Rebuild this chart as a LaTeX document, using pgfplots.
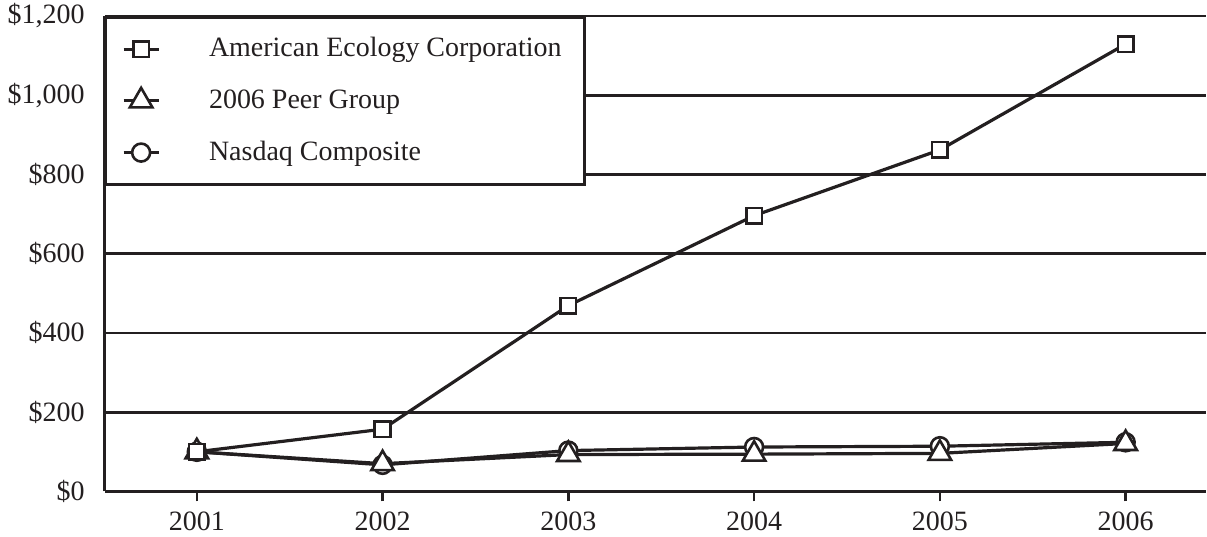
\documentclass[border=0pt]{standalone}
\usepackage{fontspec}
\setmainfont{Liberation Serif}
\usepackage{pgfplots}
\pgfplotsset{compat=1.18}
\definecolor{ink}{RGB}{35,31,32}
\begin{document}
\fontsize{14}{16}\selectfont
\begin{tikzpicture}
\begin{axis}[name=ax, scale only axis, width=551pt, height=238pt,
 xmin=2000.505, xmax=2006.43, ymin=0, ymax=1200,
 axis lines=left, axis line style={-, line width=1.5pt, ink},
 xtick={2001,2002,2003,2004,2005,2006},
 xticklabels={2001,2002,2003,2004,2005,2006},
 ytick={0,200,400,600,800,1000,1200},
 yticklabels={\$0,\$200,\$400,\$600,\$800,{\$1,000},{\$1,200}},
 tick align=outside, major tick length=5pt,
 xtick style={line width=1.2pt, ink},
 ytick style={draw=none},
 ymajorgrids, major grid style={line width=1.4pt, ink},
 tick label style={font=\fontsize{14}{16}\selectfont, text=ink, inner sep=0pt},
 yticklabel style={xshift=-5pt},
 xticklabel style={yshift=-5pt},
 legend style={at={(0,1)}, anchor=north west, draw=ink, line width=1.3pt, fill=white,
   font=\fontsize{14}{16}\selectfont, text=ink, inner xsep=8pt, inner ysep=8pt, row sep=10.3pt},
 legend cell align=left,
 legend image code/.code={\draw[mark repeat=2,mark phase=2,#1] plot coordinates {(0pt,0pt) (8.75pt,0pt) (17.5pt,0pt)};},
 clip=false,
]
\addlegendimage{line width=1.5pt, ink, mark=square*, mark size=3.9pt, mark options={fill=white, solid, line width=1.3pt}}
\addlegendentry{\makebox[200.5pt][l]{\hspace{22.5pt}American Ecology Corporation}}
\addlegendimage{line width=1.5pt, ink, mark=triangle*, mark size=6.5pt, mark options={fill=white, solid, line width=1.3pt}}
\addlegendentry{\makebox[200.5pt][l]{\hspace{22.5pt}2006 Peer Group}}
\addlegendimage{line width=1.5pt, ink, mark=*, mark size=4.5pt, mark options={fill=white, solid, line width=1.3pt}}
\addlegendentry{\makebox[200.5pt][l]{\hspace{22.5pt}Nasdaq Composite}}

\addplot[forget plot, line width=1.6pt, ink, mark=*, mark size=4.5pt, mark options={fill=white, solid, line width=1.3pt}]
 coordinates {(2001,100) (2002,67) (2003,103) (2004,112) (2005,114) (2006,124)};
\addplot[forget plot, line width=1.6pt, ink, mark=triangle*, mark size=6.5pt, mark options={fill=white, solid, line width=1.3pt}]
 coordinates {(2001,100) (2002,70) (2003,93) (2004,94) (2005,96) (2006,121)};
\addplot[forget plot, line width=1.6pt, ink, mark=square*, mark size=3.9pt, mark options={fill=white, solid, line width=1.3pt}]
 coordinates {(2001,100) (2002,157) (2003,469) (2004,696) (2005,862) (2006,1129)};
\end{axis}
\path ([shift={(-52.5pt,-22.5pt)}]ax.south west) rectangle ([shift={(0pt,8pt)}]ax.north east);
\end{tikzpicture}
\end{document}
